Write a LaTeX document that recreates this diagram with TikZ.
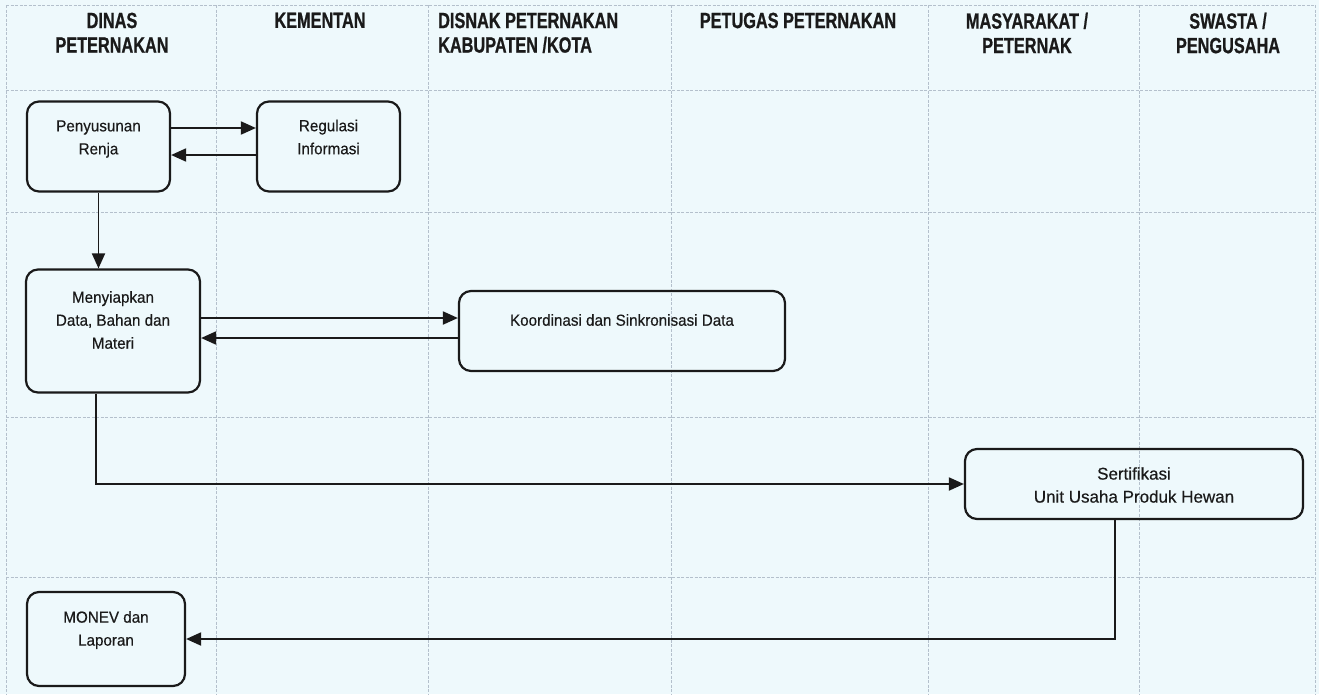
\documentclass[tikz,border=0pt]{standalone}
\usepackage{fontspec}
\setmainfont{Liberation Sans}[FakeBold=0.4]
\newfontfamily\hdrfont{Liberation Sans}[FakeStretch=0.74,FakeBold=0.8]
\newfontfamily\boxfont{Liberation Sans}[FakeStretch=0.95,FakeBold=0.4]
\usetikzlibrary{arrows.meta}
\definecolor{bgc}{HTML}{EEF9FC}
\definecolor{gridc}{HTML}{B4C0CC}
\definecolor{inkc}{HTML}{1A1A1A}
\begin{document}
\begin{tikzpicture}[x=1pt,y=-1pt,
  lane/.style={draw=gridc, line width=0.7pt, dash pattern=on 3pt off 1.5pt},
  hdr/.style={font=\hdrfont\bfseries\fontsize{22}{24.5}\selectfont, inner sep=0pt, text=inkc},
  pbox/.style={draw=inkc, line width=2.2pt, rounded corners=12pt, inner sep=0pt},
  btext/.style={font=\boxfont\fontsize{16}{23}\selectfont, align=center, inner sep=0pt, text=inkc},
  btextb/.style={font=\fontsize{17}{23}\selectfont, align=center, inner sep=0pt, text=inkc},
  flow/.style={draw=inkc, line width=1.9pt, -{Triangle[length=15pt,width=13pt]}}
]
\path[fill=bgc] (0,0) rectangle (1319,694);
\useasboundingbox (0,0) rectangle (1319,694);

% swimlane grid
\foreach \x in {6,216,428,671,928,1139,1315} \draw[lane] (\x,5) -- (\x,694);
\foreach \y in {5,90,212,417,577} \draw[lane] (6,\y) -- (1315,\y);

% headers
\node[hdr, align=center, anchor=north] (h1) at (112,12.5) {DINAS\\PETERNAKAN};
\node[hdr, anchor=north] (h2) at (320,12.5) {KEMENTAN};
\node[hdr, align=left, anchor=north west] (h3) at (438,12.5) {DISNAK PETERNAKAN\\KABUPATEN /KOTA};
\node[hdr, anchor=north] (h4) at (798,12.5) {PETUGAS PETERNAKAN};
\node[hdr, align=center, anchor=north] (h5) at (1027,12.5) {MASYARAKAT /\\PETERNAK};
\node[hdr, align=center, anchor=north] (h6) at (1228,12.5) {SWASTA /\\PENGUSAHA};

% process boxes
\node[pbox, minimum width=143pt, minimum height=90pt,
  label={[btext,yshift=7.5pt]center:{Penyusunan\\Renja}}] (pr) at (98.5,146.5) {};
\node[pbox, minimum width=143pt, minimum height=90pt,
  label={[btext,yshift=9.5pt]center:{Regulasi\\Informasi}}] (ri) at (328.5,146.5) {};
\node[pbox, minimum width=174pt, minimum height=123pt,
  label={[btext,yshift=11pt]center:{Menyiapkan\\Data, Bahan dan\\Materi}}] (md) at (113,331) {};
\node[pbox, minimum width=326pt, minimum height=80pt,
  label={[btext,yshift=11pt]center:{Koordinasi dan Sinkronisasi Data}}] (kd) at (622,331) {};
\node[pbox, minimum width=338pt, minimum height=70pt,
  label={[btextb,yshift=-1pt]center:{Sertifikasi\\Unit Usaha Produk Hewan}}] (se) at (1134,484) {};
\node[pbox, minimum width=158pt, minimum height=94pt,
  label={[btext,yshift=9pt]center:{MONEV dan\\Laporan}}] (mo) at (106,639) {};

% connectors
\draw[flow] ([yshift=18.5pt]pr.east) -- ([yshift=18.5pt]ri.west);
\draw[flow] ([yshift=-8.5pt]ri.west) -- ([yshift=-8.5pt]pr.east);
\draw[flow] (pr.south) -- (pr.south |- md.north);
\draw[flow] ([yshift=13pt]md.east) -- ([yshift=13pt]kd.west);
\draw[flow] ([yshift=-7pt]kd.west) -- ([yshift=-7pt]md.east);
\draw[flow] ([xshift=-17pt]md.south) |- (se.west);
\draw[flow] ([xshift=-19pt]se.south) |- (mo.east);
\end{tikzpicture}
\end{document}
